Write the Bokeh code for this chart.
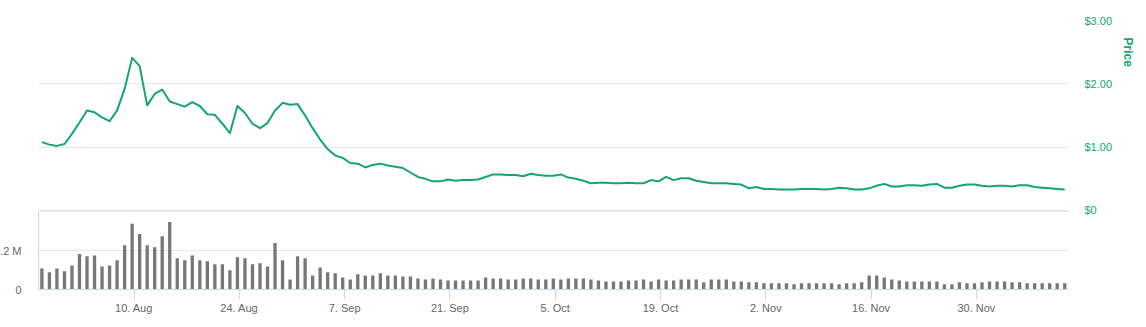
import numpy as np
import pandas as pd
from bokeh.plotting import figure
from bokeh.models import ColumnDataSource, Range1d, LinearAxis, FixedTicker, Grid, Title
from bokeh.embed import file_html
from bokeh.resources import INLINE

# ---------------- data ----------------
start_date = "2015-07-29"

price_usd = [
    1.08, 1.04, 1.02, 1.05, 1.21, 1.39, 1.58, 1.55, 1.47, 1.41, 1.58, 1.92, 2.41, 2.28, 1.66, 1.84,
    1.91, 1.72, 1.68, 1.64, 1.71, 1.65, 1.52, 1.51, 1.37, 1.22, 1.65, 1.54, 1.37, 1.30, 1.38, 1.58,
    1.70, 1.67, 1.68, 1.50, 1.30, 1.12, 0.97, 0.87, 0.83, 0.75, 0.74, 0.68, 0.72, 0.74, 0.71,
    0.69, 0.67, 0.60, 0.53, 0.50, 0.46, 0.46, 0.49, 0.47, 0.48, 0.48, 0.49, 0.53, 0.57, 0.57,
    0.56, 0.56, 0.54, 0.58, 0.56, 0.55, 0.55, 0.57, 0.52, 0.50, 0.47, 0.43, 0.44, 0.44, 0.43,
    0.43, 0.44, 0.43, 0.43, 0.48, 0.46, 0.53, 0.48, 0.51, 0.51, 0.47, 0.45, 0.43, 0.43,
    0.43, 0.42, 0.41, 0.35, 0.37, 0.34, 0.34, 0.33, 0.33, 0.33, 0.34, 0.34, 0.34, 0.33, 0.34,
    0.36, 0.35, 0.33, 0.33, 0.35, 0.39, 0.42, 0.38, 0.38, 0.40, 0.40, 0.39, 0.41, 0.42, 0.36,
    0.36, 0.39, 0.41, 0.41, 0.39, 0.38, 0.39, 0.39, 0.38, 0.40, 0.40, 0.37, 0.36, 0.35, 0.34, 0.33,
]

volume_millions = [
    0.65, 0.53, 0.65, 0.56, 0.74, 1.09, 1.02, 1.05, 0.71, 0.74, 0.90, 1.36, 2.02, 1.71, 1.36, 1.30,
    1.64, 2.08, 0.96, 0.90, 1.05, 0.90, 0.87, 0.78, 0.78, 0.59, 0.99, 0.96, 0.78, 0.81, 0.71, 1.43,
    0.90, 0.31, 1.02, 0.96, 0.43, 0.68, 0.53, 0.50, 0.37, 0.31, 0.47, 0.43, 0.43, 0.50,
    0.43, 0.43, 0.40, 0.40, 0.34, 0.31, 0.34, 0.31, 0.28, 0.28, 0.28, 0.28, 0.28, 0.37, 0.34,
    0.34, 0.31, 0.31, 0.34, 0.34, 0.31, 0.31, 0.34, 0.31, 0.34, 0.34, 0.34, 0.31, 0.28, 0.25,
    0.25, 0.25, 0.28, 0.28, 0.31, 0.25, 0.31, 0.28, 0.28, 0.31, 0.31, 0.31, 0.22, 0.31,
    0.31, 0.31, 0.25, 0.25, 0.22, 0.22, 0.19, 0.19, 0.19, 0.19, 0.16, 0.19, 0.19, 0.19, 0.19,
    0.19, 0.16, 0.19, 0.19, 0.22, 0.43, 0.43, 0.37, 0.31, 0.28, 0.25, 0.25, 0.25, 0.25, 0.25,
    0.16, 0.16, 0.22, 0.19, 0.19, 0.22, 0.25, 0.25, 0.25, 0.22, 0.22, 0.19, 0.19, 0.19, 0.19,
    0.19, 0.19,
]

tick_dates = ["2015-08-10", "2015-08-24", "2015-09-07", "2015-09-21", "2015-10-05",
              "2015-10-19", "2015-11-02", "2015-11-16", "2015-11-30"]
tick_labels = ["10. Aug", "24. Aug", "7. Sep", "21. Sep", "5. Oct",
               "19. Oct", "2. Nov", "16. Nov", "30. Nov"]

price_ticks = [0, 1, 2, 3]
price_tick_labels = ["$0", "$1.00", "$2.00", "$3.00"]
price_title = "Price"
volume_ticks = [0, 1.2]
volume_tick_labels = ["0", "1.2 M"]
volume_grid_ticks = [1.2, 2.4]

# ---------------- style ----------------
GREEN = "#14a66e"
BAR = "#777777"
GRID = "#e6e6e6"
AXIS = "#ccd6eb"
LABEL = "#666666"
FONT = "Liberation Sans"
SHIFT = 22          # canvas is shifted left so the left labels are clipped as in the reference

n = len(price_usd)
start = pd.Timestamp(start_date)
dates = pd.date_range(start, periods=n, freq="D")
x = np.arange(n)
tick_x = [float((pd.Timestamp(d) - start).days) + 0.25 for d in tick_dates]

src = ColumnDataSource(dict(x=x, date=dates, price=price_usd, vol=volume_millions))

W, H = 1146 + SHIFT, 327
p = figure(width=W, height=H, output_backend="svg", toolbar_location=None,
           x_range=Range1d(-0.45, 136.5), y_range=Range1d(-1.2474, 3.0),
           y_axis_location="right",
           min_border_left=38 + SHIFT, min_border_right=78, min_border_top=20, min_border_bottom=38)
p.styles = {"margin-left": f"-{SHIFT}px"}
p.outline_line_color = None
p.background_fill_color = "white"
p.border_fill_color = "white"
p.extra_y_ranges = {"vol": Range1d(0, 8.277)}

# grids
p.xgrid.visible = False
p.ygrid.ticker = FixedTicker(ticks=price_ticks)
p.ygrid.grid_line_color = GRID
p.ygrid.grid_line_width = 1
vgrid = Grid(dimension=1, ticker=FixedTicker(ticks=volume_grid_ticks), y_range_name="vol",
             grid_line_color=GRID, grid_line_width=1)
p.add_layout(vgrid)

# volume bars
p.vbar(x="x", top="vol", bottom=0, width=0.44, source=src, y_range_name="vol",
       fill_color=BAR, line_color=None)
# price line
p.line(x="x", y="price", source=src, line_color=GREEN, line_width=2, line_join="round")

# right price axis
ya = p.yaxis[0]
ya.ticker = FixedTicker(ticks=price_ticks)
ya.major_label_overrides = {t: l for t, l in zip(price_ticks, price_tick_labels)}
ya.axis_line_color = None
ya.major_tick_line_color = None
ya.minor_tick_line_color = None
ya.major_tick_out = 0
ya.minor_tick_out = 0
ya.major_label_standoff = 16
ya.major_label_text_color = GREEN
ya.major_label_text_font = FONT
ya.major_label_text_font_size = "11px"

# price axis title, rotated, placed high up like the reference
ptitle = Title(text=price_title, align="left", offset=17, standoff=11,
               text_color=GREEN, text_font=FONT, text_font_size="12px", text_font_style="bold")
p.add_layout(ptitle, "right")

# left volume axis
va = LinearAxis(y_range_name="vol", ticker=FixedTicker(ticks=volume_ticks), bounds=(0, 2.4))
va.major_label_overrides = {t: l for t, l in zip(volume_ticks, volume_tick_labels)}
va.axis_line_color = AXIS
va.axis_line_width = 1
va.major_tick_line_color = None
va.minor_tick_line_color = None
va.major_tick_out = 0
va.minor_tick_out = 0
va.major_tick_in = 0
va.minor_tick_in = 0
va.major_label_standoff = 17
va.major_label_text_color = LABEL
va.major_label_text_font = FONT
va.major_label_text_font_size = "11px"
p.add_layout(va, "left")

# bottom date axis
xa = p.xaxis[0]
xa.ticker = FixedTicker(ticks=tick_x)
xa.major_label_overrides = {t: l for t, l in zip(tick_x, tick_labels)}
xa.axis_line_color = AXIS
xa.major_tick_line_color = AXIS
xa.minor_tick_line_color = None
xa.major_tick_in = 0
xa.major_tick_out = 10
xa.minor_tick_out = 0
xa.major_label_standoff = 2
xa.major_label_text_color = LABEL
xa.major_label_text_font = FONT
xa.major_label_text_font_size = "11px"

open("out.html", "w").write(file_html(p, INLINE))
